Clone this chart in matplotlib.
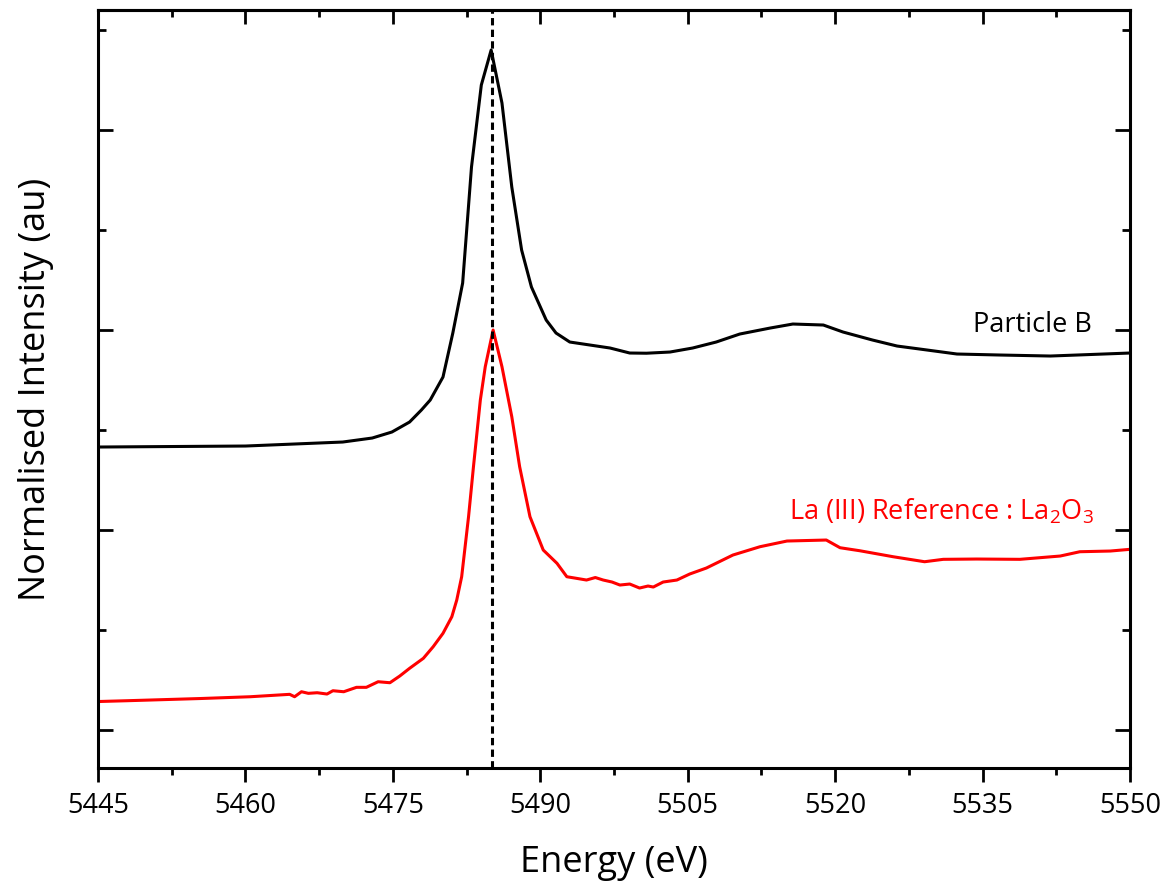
import matplotlib
matplotlib.use("Agg")
import matplotlib.pyplot as plt
from matplotlib.ticker import MultipleLocator

plt.rcParams['font.family'] = ['Open Sans', 'DejaVu Sans']
plt.rcParams['mathtext.fontset'] = 'custom'
plt.rcParams['mathtext.rm'] = 'Open Sans'
plt.rcParams['mathtext.default'] = 'regular'

# Particle B spectrum (energy in eV, normalised intensity, offset)
energy_b = [5445.0, 5460.0, 5469.9, 5472.9, 5474.9, 5476.7, 5477.9, 5478.8, 5480.1,
            5481.1, 5482.1, 5483.0, 5484.0, 5485.0, 5486.1, 5487.1, 5488.1, 5489.1,
            5490.6, 5491.6, 5493.0, 5497.1, 5499.1, 5500.8, 5503.2, 5505.5, 5507.9,
            5510.3, 5513.4, 5515.7, 5518.8, 5520.8, 5523.8, 5526.3, 5528.6, 5532.4,
            5536.8, 5541.9, 5550.0]
intensity_b = [1.415, 1.42, 1.44, 1.46, 1.49, 1.54, 1.60, 1.65, 1.765,
               1.985, 2.235, 2.815, 3.225, 3.40, 3.135, 2.715, 2.40, 2.215,
               2.05, 1.985, 1.94, 1.91, 1.885, 1.884, 1.89, 1.91, 1.94,
               1.98, 2.01, 2.03, 2.025, 1.99, 1.95, 1.92, 1.905, 1.88,
               1.875, 1.87, 1.885]

# La(III) reference, La2O3
energy_ref = [5445.0, 5447.9, 5455.4, 5460.5, 5464.5, 5465.0, 5465.7, 5466.4, 5467.3,
              5468.3, 5468.9, 5470.0, 5471.3, 5472.3, 5473.5, 5474.7, 5475.7, 5476.7,
              5478.1, 5479.1, 5480.1, 5481.0, 5481.5, 5482.0, 5482.7, 5483.2, 5483.9,
              5484.4, 5485.2, 5486.1, 5487.1, 5487.9, 5488.95, 5490.3, 5491.7, 5492.7,
              5493.5, 5494.7, 5495.6, 5496.4, 5497.3, 5498.1, 5499.1, 5500.1, 5500.96,
              5501.5, 5502.5, 5503.9, 5505.2, 5506.9, 5509.6, 5512.35, 5515.1, 5519.1,
              5520.5, 5522.5, 5525.9, 5529.1, 5531.0, 5534.4, 5538.8, 5542.9, 5544.9,
              5548.0, 5550.0]
intensity_ref = [0.1425, 0.1465, 0.1575, 0.1665, 0.1785, 0.1665, 0.1915, 0.1835, 0.1865,
                 0.18, 0.1965, 0.1915, 0.2135, 0.2135, 0.2415, 0.2365, 0.27, 0.3085,
                 0.3585, 0.4165, 0.4835, 0.5665, 0.65, 0.7665, 1.0665, 1.3165, 1.65,
                 1.8165, 2.0, 1.8165, 1.5665, 1.3165, 1.0665, 0.90, 0.8335, 0.7665,
                 0.76, 0.75, 0.7625, 0.75, 0.74, 0.725, 0.73, 0.71, 0.72,
                 0.715, 0.74, 0.75, 0.78, 0.81, 0.875, 0.9165, 0.945, 0.95,
                 0.9115, 0.8965, 0.8665, 0.8415, 0.8535, 0.855, 0.8535, 0.87, 0.8915,
                 0.895, 0.9035]

peak_energy = 5485.1

fig = plt.figure(figsize=(11.74, 8.94), dpi=100)
ax = fig.add_axes([0.0835, 0.1409, 0.879, 0.8479])

ax.plot(energy_b, intensity_b, color='black', lw=2.2, solid_joinstyle='round')
ax.plot(energy_ref, intensity_ref, color='#ff0000', lw=2.2, solid_joinstyle='round')
ax.axvline(peak_energy, color='black', lw=2.2, linestyle=(0, (2.4, 1.4)))

ax.text(5546.1, 1.99, "Particle B", ha='right', va='baseline', fontsize=19.5, color='black')
ax.text(5546.3, 1.053, "La (III) Reference : La$_2$O$_3$", ha='right', va='baseline',
        fontsize=19.5, color='#ff0000')

ax.set_xlim(5445, 5550)
ax.set_ylim(-0.19, 3.6)

ax.xaxis.set_major_locator(MultipleLocator(15))
ax.xaxis.set_minor_locator(MultipleLocator(7.5))
ax.yaxis.set_major_locator(MultipleLocator(1))
ax.yaxis.set_minor_locator(MultipleLocator(0.5))

ax.tick_params(axis='x', which='both', direction='out', width=2, labelsize=19.5, pad=7)
ax.tick_params(axis='x', which='major', length=10)
ax.tick_params(axis='x', which='minor', length=5)
ax.tick_params(axis='y', which='both', direction='in', left=True, right=True,
               labelleft=False, width=2)
ax.tick_params(axis='y', which='major', length=11)
ax.tick_params(axis='y', which='minor', length=5.5)

top = ax.secondary_xaxis('top')
top.xaxis.set_major_locator(MultipleLocator(15))
top.xaxis.set_minor_locator(MultipleLocator(7.5))
top.tick_params(axis='x', which='both', direction='in', labeltop=False, width=2)
top.tick_params(axis='x', which='major', length=10)
top.tick_params(axis='x', which='minor', length=5)
top.spines['top'].set_linewidth(2.2)

for s in ax.spines.values():
    s.set_linewidth(2.2)

ax.set_xlabel("Energy (eV)", fontsize=26, labelpad=18)
ax.set_ylabel("Normalised Intensity (au)", fontsize=26, labelpad=32)

fig.savefig("out.png", dpi=100)
